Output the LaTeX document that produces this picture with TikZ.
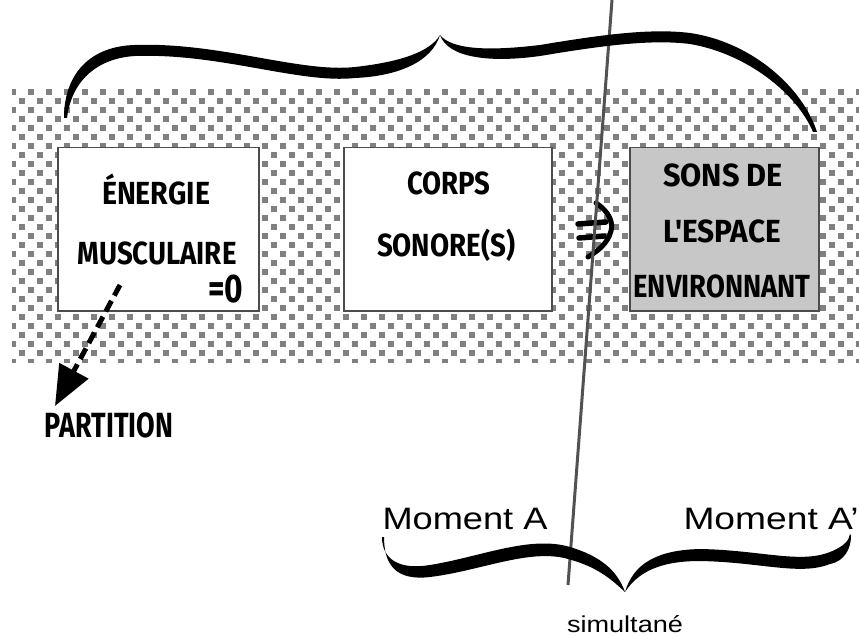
\documentclass[tikz,border=0pt]{standalone}
\usepackage{fontspec}
\setmainfont{Liberation Sans}
\newfontfamily\comicfont{Fira Sans}
\usetikzlibrary{arrows.meta}
\newcommand\fitw[2]{\resizebox{#1pt}{\height}{#2}}
\tikzset{
  box/.style={draw=black!70, line width=1.5pt, inner sep=0pt, anchor=north west},
  comic/.style={font=\comicfont\bfseries\fontsize{32}{32}\selectfont, inner sep=0pt, anchor=base},
  helv/.style={font=\fontsize{31}{31}\selectfont, inner sep=0pt, anchor=base},
  brace/.style={fill=black},
  cell/.style={fill=black!50},
}
\begin{document}
\begin{tikzpicture}[x=1pt,y=-1pt]
\useasboundingbox (0,0) rectangle (859,636);
% checkered band
\begin{scope}
\clip (12,88) rectangle (859,362);
\foreach \r [evaluate=\r as \off using {mod(\r,2)*9}] in {0,...,30}{
  \foreach \c in {0,...,47}{
    \fill[cell] (10+\off+\c*18,89+\r*9) rectangle ++(6,6);
  }
}
\end{scope}
% boxes
\node[box, fill=white, minimum width=201pt, minimum height=163pt] (b1) at (57,147) {};
\node[box, fill=white, minimum width=208pt, minimum height=163pt] (b2) at (343,147) {};
\node[box, fill=black!22, minimum width=189pt, minimum height=163pt] (b3) at (629,147) {};
% texts
\node[comic] (t1) at (156,205) {\fitw{108}{ÉNERGIE}};
\node[comic] (t2) at (157,265) {\fitw{159}{MUSCULAIRE}};
\node[comic, font=\comicfont\bfseries\fontsize{40}{40}\selectfont] (t3) at (226,302) {\fitw{35}{=0}};
\node[comic] (t4) at (449,195) {\fitw{83}{CORPS}};
\node[comic] (t5) at (446,257) {\fitw{138}{SONORE(S)}};
\node[comic] (t6) at (723,187) {\fitw{120}{SONS DE}};
\node[comic] (t7) at (722,243) {\fitw{118}{L\char"27 ESPACE}};
\node[comic] (t8) at (722,298) {\fitw{177}{ENVIRONNANT}};
\node[comic, font=\comicfont\bfseries\fontsize{35}{35}\selectfont] (t9) at (109,437) {\fitw{128}{PARTITION}};
% dashed arrow to PARTITION
\coordinate (ds) at (120,285);
\coordinate (de) at (55,406);
\draw[line width=5pt, dash pattern=on 12pt off 6pt, -{Triangle[length=40pt,width=32pt]}] (ds) -- (de);
% double arrow
\draw[line width=5.5pt, line cap=round] (578,224) -- (606,222);
\draw[line width=5.5pt, line cap=round] (579,238) -- (604,236);
\draw[line width=5pt, line cap=round] (596,203) .. controls (611,213) and (613,224) .. (611,231) .. controls (608,243) and (598,251) .. (588,257);
% vertical line
\coordinate (vt) at (612,0);
\coordinate (vb) at (568,585);
\draw[black!68, line width=3pt] (vt) -- (vb);
% top brace
\fill[brace] (64,118) .. controls (64,72) and (92,46) .. (135,45) .. controls (220,42) and (300,73) .. (355,67) .. controls (400,62) and (430,52) .. (440,35)
  .. controls (432,61) and (400,76) .. (355,78) .. controls (300,84) and (220,53) .. (135,56) .. controls (100,58) and (72,78) .. (67,118) -- cycle;
\fill[brace] (440,35) .. controls (452,50) and (490,51) .. (540,45) .. controls (600,35) and (650,28) .. (690,33) .. controls (752,42) and (803,88) .. (817,132)
  -- (813,132) .. controls (797,94) and (748,54) .. (690,44) .. controls (650,39) and (600,46) .. (540,56) .. controls (490,63) and (448,58) .. (440,35) -- cycle;
% bottom brace
\fill[brace] (382,537) .. controls (382,560) and (400,570) .. (430,565) .. controls (480,557) and (530,535) .. (570,547) .. controls (600,556) and (617,570) .. (625,592)
  .. controls (612,580) and (598,567) .. (568,559) .. controls (530,548) and (480,571) .. (430,577) .. controls (396,581) and (384,565) .. (384,537) -- cycle;
\fill[brace] (625,592) .. controls (633,565) and (655,550) .. (700,549) .. controls (760,550) and (800,564) .. (830,552) .. controls (845,546) and (849,540) .. (850,534)
  -- (851,536) .. controls (851,548) and (845,561) .. (830,564) .. controls (800,576) and (760,562) .. (700,561) .. controls (660,561) and (638,572) .. (625,592) -- cycle;
% labels
\node[helv] (ma) at (465,529) {\fitw{165}{Moment A}};
\node[helv] (mb) at (771,529) {\fitw{175}{Moment A\char"27}};
\node[helv, font=\fontsize{23}{23}\selectfont] (si) at (625,632) {\fitw{116}{simultané}};
\end{tikzpicture}
\end{document}
